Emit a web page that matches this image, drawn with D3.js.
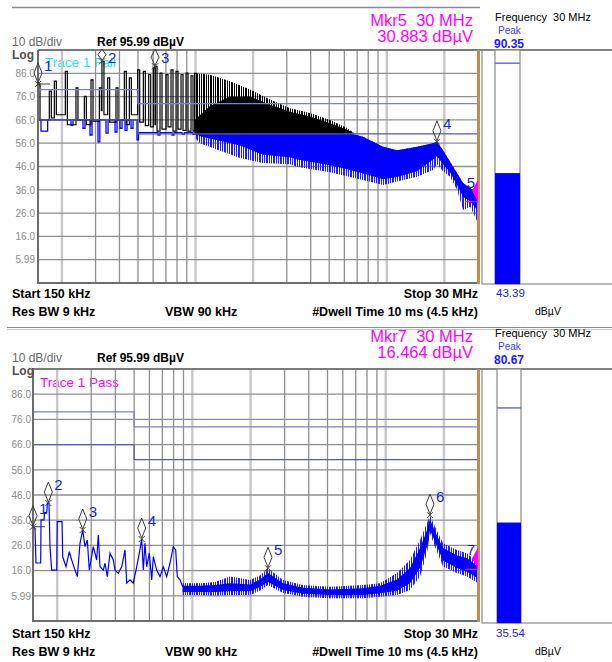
<!DOCTYPE html>
<html>
<head>
<meta charset="utf-8">
<script src="https://cdn.jsdelivr.net/npm/d3@7"></script>
<style>
  body { margin: 0; background: #fff; }
  svg text { font-family: "Liberation Sans", Arial, Helvetica, sans-serif; white-space: pre; }
</style>
</head>
<body>
<svg width="612" height="662"></svg>
<script>
// ---- chart values ----
const refLevel = 95.99;
const dbPerDiv = 10;
const yTickLabels = ["86.0", "76.0", "66.0", "56.0", "46.0", "36.0", "26.0", "16.0", "5.99"];
const gridFreqs = [0.2, 0.3, 0.4, 0.5, 0.6, 0.7, 0.8, 0.9, 1, 2, 3, 4, 5, 6, 7, 8, 9, 10, 20];
const lightGridFreqs = [0.2, 1, 2, 10, 20];

// limit lines [MHz, dBuV]
const limitQP = [[0.15, 79], [0.5, 79], [0.5, 73], [30, 73]];
const limitAV = [[0.15, 66], [0.5, 66], [0.5, 60], [30, 60]];

// top screen, trace 1 (black) harmonics: [MHz, peak, following trough]
const topBlackComb = [
  [0.150, 81.4, 66.0], [0.1719, 78.3, 66.8], [0.1826, 82.6, 68.2], [0.2085, 86.8, 63.9],
  [0.2370, 79.7, 66.0], [0.2621, 76.1, 64.0], [0.2840, 83.2, 65.4], [0.3140, 79.7, 70.0],
  [0.3240, 91.1, 68.2], [0.3471, 84.0, 65.0], [0.3837, 79.7, 66.0], [0.4242, 86.8, 64.0],
  [0.4506, 84.0, 68.2], [0.4982, 87.5, 65.0], [0.5333, 86.8, 63.5], [0.5688, 85.4, 63.0],
  [0.6016, 88.3, 64.0], [0.6140, 89.0, 61.2], [0.6519, 86.1, 62.0], [0.7008, 85.4, 63.0],
  [0.7442, 87.5, 61.2], [0.7904, 86.8, 62.0], [0.8395, 85.4, 61.5], [0.8916, 86.1, 61.2],
  [0.9469, 84.9, 61.2], [0.9900, 86.0, 62.0]
];
// top screen, trace 1 dense part: [MHz, low, solid top, spike top]
const topBlackBand = [
  [0.99, 60, 66, 86], [1.19, 60, 72, 85.4], [1.515, 60, 76, 82.6], [1.927, 60, 76, 79],
  [2.452, 60, 72.5, 74.7], [3.12, 60, 69.5, 71], [3.969, 60, 67.5, 69], [5.05, 60, 64.5, 66],
  [6.197, 60, 61.8, 62.5], [6.82, 60, 60, 60]
];
// top screen, trace 2 (blue) low part, step display
const topBlueSteps = [
  [0.150, 66], [0.1555, 61.2], [0.1685, 66], [0.2232, 63.8], [0.2286, 66], [0.2579, 62.4],
  [0.2642, 66], [0.2806, 59.5], [0.2875, 66], [0.3090, 56.6], [0.3158, 66], [0.3402, 60.3],
  [0.3487, 66], [0.3792, 60.8], [0.3884, 66], [0.4027, 62.4], [0.4126, 66], [0.4277, 61.5],
  [0.4382, 66], [0.4597, 62.4], [0.4710, 66], [0.4942, 57.4], [0.5031, 60.5], [0.6364, 59.5],
  [0.6519, 60.5], [0.7532, 59.5], [0.7717, 60.5], [0.8497, 59.8], [0.8744, 60.5], [0.9701, 59.8],
  [0.9960, 60.5], [1.0, 60]
];
// top screen, trace 2 noise band: [MHz, spike low, solid low, top]
const topBlueBand = [
  [1.0, 58, 60, 61], [1.055, 56, 59, 61], [1.709, 49.6, 55, 61], [2.254, 47.5, 51, 61],
  [3.12, 47.0, 50, 61], [3.394, 45.9, 49, 61], [5.05, 43.5, 46.5, 61], [6.05, 42, 45, 61],
  [6.42, 41.5, 44.5, 60.3], [7.51, 40.2, 43, 58.8], [9.56, 38, 40.5, 54.5], [11.32, 39.5, 41.5, 53],
  [14.4, 41.6, 44, 54.5], [17.46, 44.5, 49, 56], [18.3, 47, 50.5, 56.6], [19.69, 44, 47, 53],
  [21.43, 41.6, 43.5, 48], [23.31, 36, 38, 43.2], [25.06, 27.3, 33, 38.9], [27.27, 28.7, 31, 36.8],
  [30, 21.7, 27, 34.6]
];
const topMarkers = [
  { n: "1", f: 0.15, v: 81.4 }, { n: "2", f: 0.324, v: 91.1 }, { n: "3", f: 0.614, v: 89.0 },
  { n: "4", f: 18.3, v: 56.6 }, { n: "5", f: 30, v: 30.883, active: true }
];

// bottom screen, blue trace low part [MHz, dBuV]
const botBlueLine = [
  [0.150, 33.4], [0.1536, 32.8], [0.1554, 19.0], [0.1644, 19.0], [0.1650, 36.1], [0.1710, 36.1],
  [0.1720, 39.0], [0.1766, 39.0], [0.1780, 42.8], [0.1815, 42.8], [0.1836, 25.5], [0.1874, 16.2],
  [0.1990, 16.2], [0.2003, 35.4], [0.2120, 35.4], [0.2136, 21.5], [0.2222, 17.5], [0.2311, 23.5],
  [0.2378, 20.2], [0.2473, 16.2], [0.2542, 13.6], [0.2625, 26.8], [0.2711, 32.1], [0.2786, 25.5],
  [0.2863, 28.1], [0.2932, 16.2], [0.3075, 25.5], [0.3202, 20.2], [0.3264, 30.1], [0.3331, 17.5],
  [0.3464, 16.2], [0.3535, 18.9], [0.3633, 13.6], [0.3752, 22.9], [0.3902, 20.2], [0.3982, 16.2],
  [0.4142, 14.9], [0.4313, 17.5], [0.4486, 24.2], [0.4577, 11.0], [0.4761, 12.3], [0.4951, 11.0],
  [0.5156, 17.5], [0.5318, 22.9], [0.5472, 28.5], [0.5577, 16.2], [0.5691, 26.8], [0.5808, 17.5],
  [0.5990, 22.9], [0.6165, 12.3], [0.6284, 21.5], [0.6541, 16.2], [0.6804, 13.6], [0.7077, 17.5],
  [0.7369, 13.6], [0.7664, 18.9], [0.7971, 25.5], [0.8202, 24.2], [0.8360, 13.6], [0.8634, 12.3],
  [0.8915, 9.6]
];
// bottom screen, noise band [MHz, spike low, solid low, solid high, spike high]
const botBlueBand = [
  [0.8915, 6.3, 7.5, 10, 11], [1.0955, 6.3, 7.5, 10, 11], [1.3096, 6.0, 7.5, 10.3, 11.5],
  [1.5657, 6.3, 7.8, 11, 13.6], [1.9868, 6.3, 7.8, 10.5, 12.3], [2.238, 8, 9.5, 12.5, 14],
  [2.4615, 10.3, 11.5, 15, 16.9], [2.943, 7.1, 8.3, 11, 12.3], [3.734, 5.6, 6.8, 9.2, 10.3],
  [5.15, 5.0, 6.3, 8.5, 9.6], [7.63, 5.0, 6.3, 9, 10.3], [9.34, 5.6, 7, 10, 11],
  [11.44, 6.3, 8, 12.5, 15], [13.35, 8.3, 11, 17, 20.2], [15.04, 13.6, 17, 25, 28.1],
  [16.34, 22.9, 25.5, 32, 34.8], [16.94, 30.8, 32, 36.5, 38.0], [17.98, 25.5, 27.5, 31.5, 33.4],
  [19.78, 17.6, 20, 25, 26.8], [23.36, 15.0, 17, 22, 24.2], [26.31, 13.6, 15.5, 21, 22.9],
  [30, 11.0, 13, 17.5, 19.0]
];
const botMarkers = [
  { n: "1", f: 0.15, v: 33.4 }, { n: "2", f: 0.1800, v: 42.8 }, { n: "3", f: 0.2711, v: 32.1 },
  { n: "4", f: 0.5472, v: 28.5 }, { n: "5", f: 2.4615, v: 16.9 }, { n: "6", f: 16.94, v: 38.0 },
  { n: "7", f: 30, v: 16.464, active: true }
];

// meter bars
const topMeter = { peak: 90.35, value: 43.39 };
const botMeter = { peak: 80.67, value: 35.54 };

// ---- drawing ----
const svg = d3.select("svg");
const MAGENTA = "#ff00ff", BLUE = "#0000ff", MKBLUE = "#1c1ce6", LIMIT1 = "#7d7dda", LIMIT2 = "#5656c4";

// uneven striped fills, look of dense spectrum lines
const defs = svg.append("defs");
[["stripeK", "#000"], ["stripeB", "#1c1cff"]].forEach(([id, c]) => {
  const pt = defs.append("pattern").attr("id", id).attr("patternUnits", "userSpaceOnUse")
    .attr("width", 7).attr("height", 4);
  [[0, 2], [3, 1], [5, 1]].forEach(([sx, sw]) =>
    pt.append("rect").attr("x", sx).attr("width", sw).attr("height", 4).attr("fill", c));
});

function txt(x, y, s, o = {}) {
  return svg.append("text").attr("x", x).attr("y", y).text(s)
    .attr("font-size", o.size || 12).attr("font-weight", o.weight || "normal")
    .attr("fill", o.fill || "#000").attr("text-anchor", o.anchor || "start");
}

function drawPanel(p) {
  const x = d3.scaleLog().domain([0.15, 30]).range([p.left, p.right]);
  const y = d3.scaleLinear().domain([refLevel - 10 * dbPerDiv, refLevel]).range([p.bottom, p.top]);
  const g = svg.append("g");

  svg.append("clipPath").attr("id", "clip" + p.id).append("rect")
    .attr("x", p.left).attr("y", p.top).attr("width", p.right - p.left).attr("height", p.bottom - p.top);

  // graticule
  const hLines = d3.range(1, 10).map(i => refLevel - i * dbPerDiv);
  g.append("g").selectAll("line").data(gridFreqs).join("line")
    .attr("x1", d => x(d)).attr("x2", d => x(d)).attr("y1", p.top).attr("y2", p.bottom)
    .attr("stroke", d => lightGridFreqs.includes(d) ? "#c8c8c8" : "#8f8f8f")
    .attr("stroke-width", d => lightGridFreqs.includes(d) ? 2.4 : 1.3);
  g.append("g").selectAll("line").data(hLines).join("line")
    .attr("x1", p.left).attr("x2", p.right).attr("y1", d => y(d)).attr("y2", d => y(d))
    .attr("stroke", "#8f8f8f").attr("stroke-width", 1.3);

  // y labels through an axis
  const ax = g.append("g").attr("transform", `translate(${p.left - 1},0)`)
    .call(d3.axisLeft(y).tickValues(hLines).tickSize(0).tickPadding(p.labelPad)
      .tickFormat((d, i) => yTickLabels[i]));
  ax.select(".domain").remove();
  ax.selectAll("text").attr("font-size", 10).attr("fill", "#8c8c8c")
    .attr("font-family", '"Liberation Sans", Arial, sans-serif');

  // traces
  const tr = g.append("g").attr("clip-path", `url(#clip${p.id})`);
  p.traces(tr, x, y);

  // limit lines on top
  const ln = d3.line().x(d => x(d[0])).y(d => y(d[1]));
  tr.append("path").attr("d", ln(limitQP)).attr("fill", "none").attr("stroke", LIMIT1).attr("stroke-width", 1.3);
  tr.append("path").attr("d", ln(limitAV)).attr("fill", "none").attr("stroke", LIMIT2).attr("stroke-width", 1.3);

  // frame
  g.append("line").attr("x1", p.left).attr("x2", 612).attr("y1", p.top).attr("y2", p.top)
    .attr("stroke", "#7a7a7a").attr("stroke-width", 2);
  g.append("line").attr("x1", p.left).attr("x2", p.left).attr("y1", p.top).attr("y2", p.bottom + 1)
    .attr("stroke", "#6c6c6c").attr("stroke-width", 2);
  g.append("line").attr("x1", p.left).attr("x2", p.right).attr("y1", p.bottom).attr("y2", p.bottom)
    .attr("stroke", "#6c6c6c").attr("stroke-width", 2);
  g.append("line").attr("x1", p.right + 0.5).attr("x2", p.right + 0.5).attr("y1", p.top).attr("y2", p.bottom + 1)
    .attr("stroke", "#c68a4e").attr("stroke-width", 3);

  // markers
  p.markers.forEach(m => {
    const px = x(m.f), py = y(m.v);
    if (m.active) {
      g.append("path").attr("d", `M${px},${py - 22}L${px - 6},${py - 11}L${px},${py}Z`).attr("fill", MAGENTA);
      g.append("line").attr("x1", px - 13).attr("x2", px).attr("y1", py).attr("y2", py)
        .attr("stroke", MAGENTA).attr("stroke-width", 1.2);
      txt(px - 3, py - 14, m.n, { size: 15, fill: MKBLUE, anchor: "end" });
      return;
    }
    const bot = py - 1, top = Math.max(py - 21, p.top - 1), mid = (top + bot) / 2;
    g.append("path").attr("d", `M${px},${top}L${px + 4},${mid}L${px},${bot}L${px - 4},${mid}Z`)
      .attr("fill", "none").attr("stroke", "#3c3c3c").attr("stroke-width", 1);
    g.append("path").attr("d", `M${px - 3},${py - 3}L${px + 3},${py + 3}M${px - 3},${py + 3}L${px + 3},${py - 3}`)
      .attr("stroke", "#3c3c3c").attr("stroke-width", 1);
    if (m.n === "1") {
      g.append("line").attr("x1", px).attr("x2", px + 12).attr("y1", py).attr("y2", py)
        .attr("stroke", "#3c3c3c").attr("stroke-width", 1);
    }
    txt(px + 6, Math.max(py - 13, p.top + 13), m.n, { size: 15, fill: MKBLUE });
  });

  // meter
  const mg = svg.append("g");
  mg.append("rect").attr("x", p.meterBox).attr("y", p.top).attr("width", 640 - p.meterBox)
    .attr("height", p.meterBottom - p.top).attr("fill", "none").attr("stroke", "#8a8a8a").attr("stroke-width", 1.2);
  const my = d3.scaleLinear().domain(y.domain()).range([p.meterBottom, p.top]);
  mg.append("rect").attr("x", p.barX).attr("y", p.top).attr("width", p.barW)
    .attr("height", p.meterBottom - p.top).attr("fill", "#fff").attr("stroke", "#8a8a8a").attr("stroke-width", 1.2);
  mg.append("rect").attr("x", p.barX).attr("y", my(p.meter.value)).attr("width", p.barW)
    .attr("height", p.meterBottom - my(p.meter.value)).attr("fill", BLUE);
  mg.append("line").attr("x1", p.barX).attr("x2", p.barX + p.barW)
    .attr("y1", my(p.meter.peak)).attr("y2", my(p.meter.peak)).attr("stroke", "#6b6bf0").attr("stroke-width", 1.5);
}

function band(g, data, x, y, lo, hi, fill) {
  g.append("path").attr("fill", fill)
    .attr("d", d3.area().x(d => x(d[0])).y0(d => y(d[lo])).y1(d => y(d[hi]))(data));
}

function topTraces(g, x, y) {
  band(g, topBlueBand, x, y, 1, 3, "url(#stripeB)");
  band(g, topBlueBand, x, y, 2, 3, BLUE);
  g.append("path").attr("fill", "none").attr("stroke", BLUE).attr("stroke-width", 1.3)
    .attr("d", d3.line().curve(d3.curveStepAfter).x(d => x(d[0])).y(d => y(d[1]))(topBlueSteps));
  band(g, topBlackBand, x, y, 1, 3, "url(#stripeK)");
  band(g, topBlackBand, x, y, 1, 2, "#000");
  // harmonic comb: rise to the peak, short flat top, fall to the trough
  const w = 2;
  let d = "";
  topBlackComb.forEach((h, i) => {
    const hx = x(h[0]);
    d += (i === 0 ? `M${hx},${y(h[1])}` : `L${hx},${y(topBlackComb[i - 1][2])}L${hx},${y(h[1])}`);
    d += `L${hx + w},${y(h[1])}L${hx + w},${y(h[2])}`;
  });
  g.append("path").attr("d", d).attr("fill", "none").attr("stroke", "#000").attr("stroke-width", 1.2);
}

function botTraces(g, x, y) {
  band(g, botBlueBand, x, y, 1, 4, "url(#stripeB)");
  band(g, botBlueBand, x, y, 2, 3, BLUE);
  g.append("path").attr("fill", "none").attr("stroke", BLUE).attr("stroke-width", 1.2)
    .attr("d", d3.line().x(d => x(d[0])).y(d => y(d[1]))(botBlueLine));
}

// page lines
svg.append("line").attr("x1", 12).attr("x2", 480).attr("y1", 7.5).attr("y2", 7.5)
  .attr("stroke", "#8a8a96").attr("stroke-width", 1.5);
svg.append("line").attr("x1", 7).attr("x2", 612).attr("y1", 327.5).attr("y2", 327.5)
  .attr("stroke", "#8c8c8c").attr("stroke-width", 1.2);
svg.append("line").attr("x1", 7).attr("x2", 612).attr("y1", 329.5).attr("y2", 329.5)
  .attr("stroke", "#c4c4c4").attr("stroke-width", 1.2);

// "Trace 1" text sits under the traces
txt(45, 67, "Trace 1 Fail", { size: 13.5, fill: "#1ee4ff" });
txt(40, 386.5, "Trace 1 Pass", { size: 13.5, fill: MAGENTA });

drawPanel({ id: "t", left: 38, right: 478, top: 50, bottom: 283, labelPad: 2, traces: topTraces,
  markers: topMarkers, meter: topMeter, meterBox: 482, meterBottom: 284, barX: 495, barW: 25 });
drawPanel({ id: "b", left: 33, right: 478, top: 369, bottom: 621, labelPad: 1, traces: botTraces,
  markers: botMarkers, meter: botMeter, meterBox: 482, meterBottom: 623, barX: 497, barW: 24 });

// headers and footers
function annotate(dy, dyF, mk, mkVal, meter) {
  txt(12, 46 + dy, "10 dB/div", { size: 12, fill: "#6a6a6a" });
  txt(12, 58.5 + dy, "Log", { size: 12, weight: "bold", fill: "#505050" });
  txt(97, 45.5 + dy, "Ref 95.99 dBµV", { size: 12, weight: "bold" });
  txt(473, 26 + dy, mk + "  30 MHz", { size: 16.5, fill: MAGENTA, anchor: "end" });
  txt(473, 41.5 + dy, mkVal, { size: 16.5, fill: MAGENTA, anchor: "end" });
  txt(495, 21 + dy, "Frequency  30 MHz", { size: 11 });
  txt(498, 33.5 + dy, "Peak", { size: 10, fill: "#3c3cff" });
  txt(494, 47.5 + dy, meter.peak.toFixed(2), { size: 12, weight: "bold", fill: "#1a1aff" });
  txt(12, 297.5 + dyF, "Start 150 kHz", { size: 12.5, weight: "bold" });
  txt(478, 297.5 + dyF, "Stop 30 MHz", { size: 12.5, weight: "bold", anchor: "end" });
  txt(12, 315.5 + dyF, "Res BW 9 kHz", { size: 12.5, weight: "bold" });
  txt(165, 315.5 + dyF, "VBW 90 kHz", { size: 12.5, weight: "bold" });
  txt(478, 315.5 + dyF, "#Dwell Time 10 ms (4.5 kHz)", { size: 12.5, weight: "bold", anchor: "end" });
  txt(496, 297 + dyF, meter.value.toFixed(2), { size: 11.5, fill: "#1a1aff" });
  txt(535, 315 + dyF, "dBµV", { size: 10.5 });
}
annotate(0, 0, "Mkr5", "30.883 dBµV", topMeter);
annotate(316, 340, "Mkr7", "16.464 dBµV", botMeter);
</script>
</body>
</html>
